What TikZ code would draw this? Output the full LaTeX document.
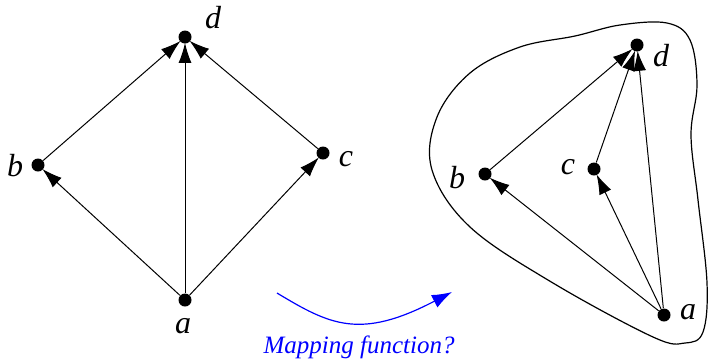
\documentclass[tikz,border=0pt]{standalone}
\usepackage{fontspec}
\setmainfont{Liberation Serif}
\usetikzlibrary{arrows.meta}
\begin{document}
\begin{tikzpicture}[x=0.5pt,y=-0.5pt,
  dot/.style={circle,fill=black,inner sep=0pt,minimum size=6.5pt},
  lbl/.style={font=\fontsize{16}{18}\selectfont\itshape,inner sep=0pt},
  edge/.style={-{Latex[length=10pt,width=6.5pt]},line width=0.5pt,shorten >=-0.5pt}]
\useasboundingbox (0,0) rectangle (710,360);
% left graph
\node[dot] (la) at (185,300) {};
\node[dot] (lb) at (38,165) {};
\node[dot] (lc) at (323,153) {};
\node[dot] (ld) at (185,37) {};
\node[lbl] (tla) at (183,326) {a};
\node[lbl] (tlb) at (15,166) {b};
\node[lbl] (tlc) at (346,159) {c};
\node[lbl] (tld) at (213,18) {d};
\draw[edge] (la) -- (lb);
\draw[edge] (la) -- (lc);
\draw[edge] (la) -- (ld);
\draw[edge] (lb) -- (ld);
\draw[edge] (lc) -- (ld);
% blob
\draw[line width=0.6pt] plot[smooth cycle,tension=0.6] coordinates {
 (667,23) (690,40) (697,85) (691,135) (698,200) (707,283) (703,332) (685,343)
 (653,337) (553,283) (470,227) (432,170) (437,117) (470,73) (520,47) (575,36) (620,25)};
% right graph
\node[dot] (ra) at (664,315) {};
\node[dot] (rb) at (485,174) {};
\node[dot] (rc) at (594,169) {};
\node[dot] (rd) at (637,45) {};
\node[lbl] (tra) at (688,312) {a};
\node[lbl] (trb) at (457,178) {b};
\node[lbl] (trc) at (568,167) {c};
\node[lbl] (trd) at (661,56) {d};
\draw[edge] (ra) -- (rb);
\draw[edge] (ra) -- (rc);
\draw[edge] (ra) -- (rd);
\draw[edge] (rb) -- (rd);
\draw[edge] (rc) -- (rd);
% mapping
\coordinate (m1) at (277,293);
\coordinate (m2) at (452,292);
\draw[blue,line width=0.6pt,-{Latex[length=10pt,width=7pt]}] (m1) .. controls (330,325) and (360,340) .. (m2);
\node[blue,font=\fontsize{12.5}{14}\selectfont\itshape,inner sep=0pt] (mt) at (359,347) {Mapping function?};
\end{tikzpicture}
\end{document}
